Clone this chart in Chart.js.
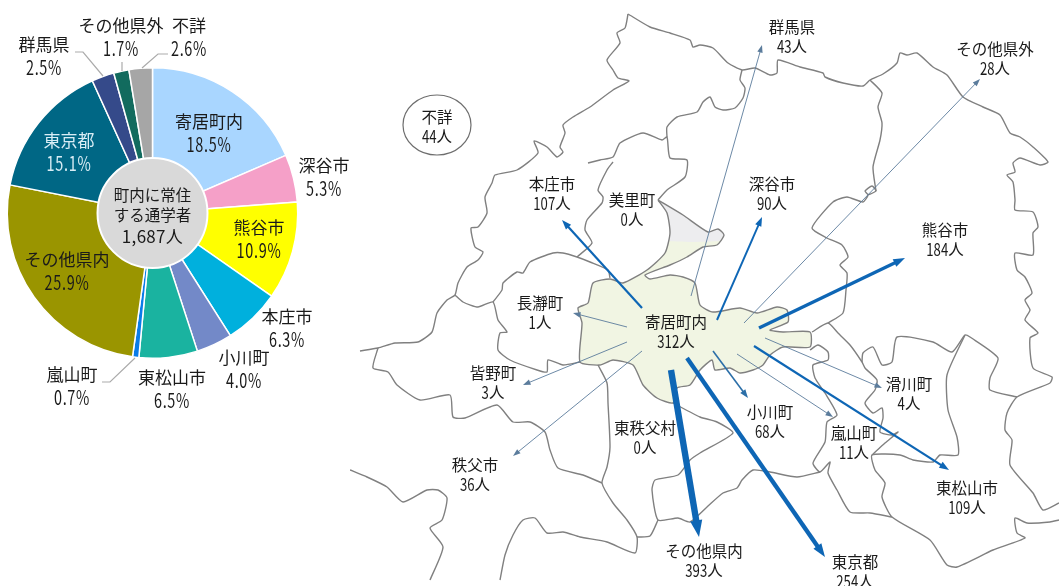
<!DOCTYPE html>
<html lang="ja">
<head>
<meta charset="utf-8">
<title>町内に常住する通学者</title>
<script src="https://cdn.jsdelivr.net/npm/chart.js@4"></script>
<style>
  html, body { margin: 0; padding: 0; background: #fff; overflow: hidden; }
  canvas { position: absolute; top: 0; }
  #pieChart { left: 0; }
  #mapChart { left: 350px; }
</style>
</head>
<body>
<canvas id="pieChart" width="350" height="586"></canvas>
<canvas id="mapChart" width="709" height="586"></canvas>
<script>
// pie data
const pieNames = ["寄居町内", "深谷市", "熊谷市", "本庄市", "小川町", "東松山市", "嵐山町", "その他県内", "東京都", "群馬県", "その他県外", "不詳"];
const piePercents = [18.5, 5.3, 10.9, 6.3, 4.0, 6.5, 0.7, 25.9, 15.1, 2.5, 1.7, 2.6];
const centerLines = ["町内に常住", "する通学者", "1,687人"];

// map data, numbers on the map
const mapNames = ["群馬県", "その他県外", "不詳", "本庄市", "美里町", "深谷市", "熊谷市", "長瀞町", "寄居町内", "皆野町", "秩父市", "東秩父村", "その他県内", "東京都", "小川町", "嵐山町", "滑川町", "東松山市"];
const mapCounts = [43, 28, 44, 107, 0, 90, 184, 1, 312, 3, 36, 0, 393, 254, 68, 11, 4, 109];

// arrows, from town centre to destination, in map units
const arrowCounts = [107, 1, 3, 36, 393, 254, 68, 11, 109, 4, 184, 90, 43, 28];
const arrowStarts = [[642,308],[627,327],[627,342],[642,351],[671,370],[687,358],[713,351],[737,354],[754,346],[765,338],[759,328],[717,320],[691,296],[744,323]];
const arrowTips = [[562,220],[573,313],[523,385],[513,456],[699,537],[825,557],[748,398],[833,417],[949,470],[882,388],[905,258],[762,217],[762,45],[980,79]];

// municipal boundaries
const boundaries = [
  [[628,14],[625,28],[617,33],[620,43],[607,60],[613,70],[618,78],[629,81],[613,90],[590,107],[573,117],[563,125],[565,133],[560,147],[563,152],[557,157],[547,147],[534,141],[538,153],[517,170],[495,175],[492,183],[485,197],[487,213],[478,227],[471,228],[475,247],[483,252],[478,260],[467,267],[458,283],[455,295],[447,300],[437,313],[432,332],[418,342],[395,343],[378,348],[360,351]],
  [[378,348],[373,368],[388,372],[397,385],[420,400],[450,395],[453,417],[465,418],[497,405],[513,422],[530,422],[545,432],[550,450],[558,468],[583,475],[602,483]],
  [[455,295],[463,302],[478,307],[493,302],[498,320],[507,332],[500,333],[498,350],[510,360],[537,370],[547,372],[548,360],[563,365],[580,362]],
  [[493,302],[502,290],[503,283],[517,272],[523,273],[530,262],[553,253],[563,253],[577,257],[590,262],[608,270],[610,278]],
  [[588,163],[600,160],[613,157],[620,143],[643,133],[662,140],[667,137],[670,158],[687,160],[685,177],[667,190],[658,200]],
  [[613,162],[607,170],[598,190],[603,197],[602,203],[587,220],[585,230],[592,243],[577,257]],
  [[658,200],[667,213],[670,233],[665,253],[647,270],[623,283],[610,279],[593,283],[588,303],[578,308],[582,323],[580,362],[600,365],[613,360],[633,365],[643,385],[657,398],[673,403],[677,388],[690,385],[700,370],[712,360],[715,370],[730,368],[740,373],[753,370],[763,365],[770,355],[783,347],[810,347],[810,332],[783,332],[770,330],[788,322],[787,310],[777,307],[757,313],[740,308],[713,312],[700,305],[695,283],[683,277],[670,275],[650,279],[645,275],[670,265],[687,257],[703,247],[717,245],[724,235],[718,229],[708,232],[683,215],[658,200]],
  [[628,14],[650,27],[670,33],[690,40],[693,47],[700,45],[713,48],[728,63],[742,70],[755,68],[770,75],[777,73],[778,60],[800,67],[823,73],[825,77],[843,83],[863,86],[870,80],[883,74],[897,63],[900,53],[907,55],[917,53],[933,67],[947,75],[963,97],[983,107],[1000,115],[1010,133],[1020,137],[1033,147],[1048,162],[1040,165],[1020,158],[1013,163],[1015,172],[1007,175],[1013,182],[1015,200],[1015,210],[1033,212],[1038,227],[1033,233],[1033,255],[1015,253],[1017,270],[1025,277],[1032,293],[1025,300],[1030,310],[1025,320],[1038,333],[1030,338],[1033,368],[1052,377],[1050,383],[1017,397],[1007,413],[1005,430],[1012,440],[1010,465],[1033,493],[1043,510],[1059,503]],
  [[1017,397],[990,390],[990,378],[998,358],[970,337],[965,335],[952,352],[933,342],[897,337],[892,362],[882,365],[873,347],[863,353],[862,362]],
  [[812,332],[828,323],[838,333],[850,345],[862,362],[865,368],[877,380],[875,390],[865,403],[873,413],[882,408],[883,418],[880,432],[892,435],[898,432],[885,443],[872,455]],
  [[965,335],[947,375],[948,410],[957,437],[958,455],[940,455],[933,462],[913,460],[900,455],[872,455],[875,470],[885,483],[882,497],[892,517],[930,540],[947,565],[957,567],[993,550],[1025,538],[1017,533],[1015,518],[1027,523],[1050,522],[1059,520]],
  [[892,517],[870,513],[850,512],[837,490],[828,473],[830,462],[820,472],[813,463],[825,442],[827,422],[837,415],[825,393],[815,378],[813,365],[828,360],[828,352],[818,345],[810,350]],
  [[828,323],[843,313],[846,290],[847,273],[840,265],[848,257],[842,245],[827,238],[812,228],[833,202],[847,197],[863,202],[868,195],[865,191],[872,186],[876,191],[868,195]],
  [[876,191],[873,167],[880,140],[882,123],[878,107],[882,93],[870,80]],
  [[820,472],[797,477],[770,472],[753,470],[742,480],[737,488],[723,493],[707,507],[690,522],[678,518],[658,520],[652,490],[655,480],[678,475],[690,460],[700,453],[733,433],[717,422],[700,417],[673,403]],
  [[598,365],[607,383],[608,403],[610,447],[607,467],[602,483],[613,503],[627,520],[637,537],[635,553],[607,542],[580,537],[563,532],[547,533],[535,518],[523,520],[513,535],[505,555],[500,580]],
  [[637,537],[650,536],[658,520]],
  [[350,470],[367,477],[387,487],[403,502],[427,490],[438,490],[447,498],[442,520],[430,528],[443,547],[430,580]],
  [[742,70],[740,80],[745,88],[743,98],[735,108],[723,110],[715,107],[710,97],[703,102],[697,112],[677,117],[667,127],[667,137]]
];
const yoriiOutline = [[593,283],[610,279],[623,283],[647,270],[665,253],[670,233],[667,213],[658,200],[683,215],[708,232],[718,229],[724,235],[717,245],[703,247],[687,257],[670,265],[645,275],[650,279],[670,275],[683,277],[695,283],[700,305],[713,312],[740,308],[757,313],[777,307],[787,310],[788,322],[770,330],[783,332],[810,332],[810,347],[783,347],[770,355],[763,365],[753,370],[740,373],[730,368],[715,370],[712,360],[700,370],[690,385],[677,388],[673,403],[657,398],[643,385],[633,365],[613,360],[600,365],[580,362],[582,323],[578,308],[588,303],[593,283]];
const yoriiTop = [[658,200],[683,215],[708,232],[718,229],[724,235],[719,241],[670,241],[670,233],[667,213],[658,200]];

// colours and label places
const pieColors = ["#A9D6FF", "#F5A0C8", "#FFFF00", "#00B0DD", "#7389C8", "#1AB3A0", "#0A7CE8", "#9A9500", "#006785", "#354A8A", "#126B5E", "#A6A6A6"];
const pieLabelAt = [[209,122],[324,166],[259,228],[287,317],[244,358],[172,378],[72,375],[67,260],[69,141],[44,45],[121,26],[189,26]];
const leaders = [[[75,52],[83,52],[103,76]], [[122,62],[122,71]], [[168,54],[158,54],[142,68]], [[102,382],[110,382],[135,358]]];
const mapLabelAt = [[792,27],[995,49],[437,117],[552,184],[632,200],[772,184],[945,230],[540,303],[676,322],[493,373],[475,465],[645,428],[704,551],[855,562],[770,412],[854,433],[909,384],[967,488]];

const fontStack = '"Noto Sans CJK JP", sans-serif';

// digits in the source are taller and narrower than the font's
function narrowText(ctx, text, x, y, sx) {
  ctx.save();
  ctx.translate(x, y);
  ctx.scale(sx, 1.14);
  ctx.fillText(text, 0, 0);
  ctx.restore();
}

const pieText = {
  id: 'pieText',
  afterDraw(chart) {
    const ctx = chart.ctx;
    const arc = chart.getDatasetMeta(0).data[0];
    ctx.save();
    // grey circle in the middle
    ctx.beginPath();
    ctx.arc(arc.x, arc.y, 55, 0, Math.PI * 2);
    ctx.fillStyle = '#D9D9D9';
    ctx.fill();
    ctx.lineWidth = 2;
    ctx.strokeStyle = '#fff';
    ctx.stroke();

    ctx.strokeStyle = '#ABABAB';
    ctx.lineWidth = 1.2;
    leaders.forEach(pts => {
      ctx.beginPath();
      pts.forEach((p, i) => i ? ctx.lineTo(p[0], p[1]) : ctx.moveTo(p[0], p[1]));
      ctx.stroke();
    });

    ctx.textAlign = 'center';
    ctx.textBaseline = 'middle';
    ctx.font = '17px ' + fontStack;
    pieNames.forEach((name, i) => {
      const at = pieLabelAt[i];
      ctx.fillStyle = name === '東京都' ? '#D8EDF5' : '#1A1A1A';
      ctx.letterSpacing = '0px';
      ctx.fillText(name, at[0], at[1]);
      ctx.letterSpacing = '0.8px';
      narrowText(ctx, piePercents[i].toFixed(1) + '%', at[0], at[1] + 23, 0.85);
    });
    ctx.letterSpacing = '0px';
    ctx.font = '15.5px ' + fontStack;
    ctx.fillStyle = '#1A1A1A';
    ctx.fillText(centerLines[0], arc.x, 195);
    ctx.fillText(centerLines[1], arc.x, 215);
    ctx.font = '17px ' + fontStack;
    ctx.letterSpacing = '0.3px';
    ctx.fillText(centerLines[2], arc.x, 237);
    ctx.restore();
  }
};

new Chart(document.getElementById('pieChart'), {
  type: 'pie',
  data: {
    labels: pieNames,
    datasets: [{ data: piePercents, backgroundColor: pieColors, borderColor: '#fff', borderWidth: 1.5 }]
  },
  options: {
    responsive: false,
    animation: false,
    layout: { padding: { left: 6, right: 51, top: 67, bottom: 227 } },
    plugins: { legend: { display: false }, tooltip: { enabled: false } }
  },
  plugins: [pieText]
});

function toXY(pts) {
  return pts.map(p => ({ x: p[0], y: p[1] }));
}
function arrowWidth(n) {
  return n < 50 ? 0.9 : 0.6 + n / 68;
}
function headLength(n) {
  return 6 + arrowWidth(n) * 1.7;
}
function arrowColor(n) {
  return n < 50 ? '#5B7C9C' : (n < 80 ? '#2C6FA8' : '#0E66B5');
}

// stop the shaft short of the tip so the head keeps its point
function shaft(i) {
  const a = arrowStarts[i], b = arrowTips[i];
  const len = Math.hypot(b[0] - a[0], b[1] - a[1]);
  const k = (len - headLength(arrowCounts[i]) * 0.8) / len;
  return [a, [a[0] + (b[0] - a[0]) * k, a[1] + (b[1] - a[1]) * k]];
}

const mapDatasets = [];
mapDatasets.push({ data: toXY(yoriiOutline), fill: 'shape', backgroundColor: '#F1F5E3', borderWidth: 0, tension: 0.2, order: 30 });
mapDatasets.push({ data: toXY(yoriiTop), fill: 'shape', backgroundColor: '#EDEDEF', borderWidth: 0, tension: 0.2, order: 29 });
boundaries.forEach(line => {
  mapDatasets.push({ data: toXY(line), borderColor: '#808080', borderWidth: 1.4, tension: 0.2, order: 20 });
});
arrowCounts.forEach((n, i) => {
  mapDatasets.push({ data: toXY(shaft(i)), borderColor: arrowColor(n), borderWidth: arrowWidth(n), order: 10 });
});

const mapDecor = {
  id: 'mapDecor',
  afterDraw(chart) {
    const ctx = chart.ctx;
    const sx = chart.scales.x, sy = chart.scales.y;
    ctx.save();

    // arrow heads
    arrowCounts.forEach((n, i) => {
      const a = arrowStarts[i], b = arrowTips[i];
      const x0 = sx.getPixelForValue(a[0]), y0 = sy.getPixelForValue(a[1]);
      const x1 = sx.getPixelForValue(b[0]), y1 = sy.getPixelForValue(b[1]);
      const ang = Math.atan2(y1 - y0, x1 - x0);
      const h = headLength(n), w = h * 0.36;
      ctx.beginPath();
      ctx.moveTo(x1, y1);
      ctx.lineTo(x1 - h * Math.cos(ang) + w * Math.sin(ang), y1 - h * Math.sin(ang) - w * Math.cos(ang));
      ctx.lineTo(x1 - h * Math.cos(ang) - w * Math.sin(ang), y1 - h * Math.sin(ang) + w * Math.cos(ang));
      ctx.closePath();
      ctx.fillStyle = arrowColor(n);
      ctx.fill();
    });

    // ring round the unknown count
    ctx.beginPath();
    ctx.ellipse(sx.getPixelForValue(437), sy.getPixelForValue(125), 34, 30, 0, 0, Math.PI * 2);
    ctx.strokeStyle = '#6E6E6E';
    ctx.lineWidth = 1.2;
    ctx.stroke();

    ctx.textAlign = 'center';
    ctx.textBaseline = 'middle';
    ctx.font = '15.5px ' + fontStack;
    ctx.fillStyle = '#1A1A1A';
    mapNames.forEach((name, i) => {
      const x = sx.getPixelForValue(mapLabelAt[i][0]);
      const y = sy.getPixelForValue(mapLabelAt[i][1]);
      ctx.fillText(name, x, y);
      // digits squeezed, 人 left at full width
      const digits = String(mapCounts[i]);
      const dw = ctx.measureText(digits).width * 0.85;
      const pw = ctx.measureText('人').width;
      const left = x - (dw + pw) / 2;
      narrowText(ctx, digits, left + dw / 2, y + 19, 0.85);
      ctx.fillText('人', left + dw + pw / 2, y + 19);
    });
    ctx.restore();
  }
};

new Chart(document.getElementById('mapChart'), {
  type: 'scatter',
  data: { datasets: mapDatasets },
  options: {
    responsive: false,
    animation: false,
    showLine: true,
    elements: { point: { radius: 0 }, line: { borderJoinStyle: 'round' } },
    layout: { padding: 0 },
    scales: {
      x: { type: 'linear', min: 350, max: 1059, display: false },
      y: { type: 'linear', min: 0, max: 586, reverse: true, display: false }
    },
    plugins: { legend: { display: false }, tooltip: { enabled: false } }
  },
  plugins: [mapDecor]
});
</script>
</body>
</html>
